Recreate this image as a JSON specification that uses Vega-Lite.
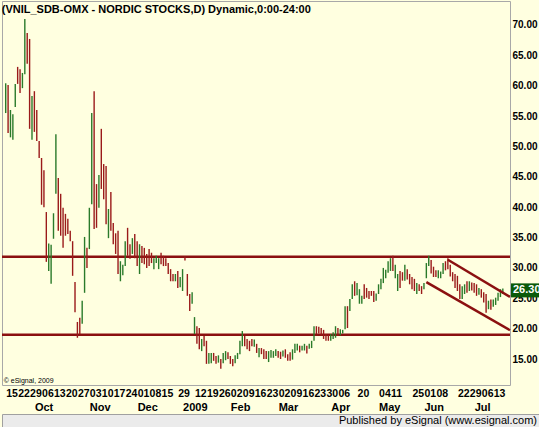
{
  "$schema": "https://vega.github.io/schema/vega-lite/v6.json",
  "background": "#FFFFE0",
  "padding": 0,
  "spacing": 0,
  "config": {"font": "Liberation Sans", "view": {"stroke": null}, "axis": {"labelOverlap": false, "labelSeparation": 0}},
  "datasets": {
    "ohlc": [
      {"d":"2008-09-15","o":56,"h":60.4,"l":55.5,"c":60},
      {"d":"2008-09-16","o":59.5,"h":60.1,"l":52.2,"c":53},
      {"d":"2008-09-17","o":53,"h":56,"l":51.5,"c":55},
      {"d":"2008-09-18","o":52,"h":55.3,"l":51.1,"c":54.5},
      {"d":"2008-09-19","o":57,"h":60.3,"l":56.5,"c":60},
      {"d":"2008-09-22","o":62.5,"h":63.1,"l":60.3,"c":61},
      {"d":"2008-09-23","o":62,"h":62.7,"l":58.8,"c":60},
      {"d":"2008-09-24","o":60,"h":62.1,"l":59.6,"c":62},
      {"d":"2008-09-25","o":62,"h":71,"l":61.9,"c":69},
      {"d":"2008-09-26","o":68,"h":68.7,"l":63.6,"c":64.5},
      {"d":"2008-09-29","o":66,"h":67.7,"l":52.9,"c":54},
      {"d":"2008-09-30","o":52,"h":58.3,"l":51.1,"c":57},
      {"d":"2008-10-01","o":58,"h":59.1,"l":52.4,"c":53},
      {"d":"2008-10-02","o":55,"h":56,"l":50.9,"c":51.5},
      {"d":"2008-10-03","o":50.5,"h":50.9,"l":48.1,"c":48.5},
      {"d":"2008-10-06","o":47.5,"h":48.1,"l":40.4,"c":41.5},
      {"d":"2008-10-07","o":45,"h":46.1,"l":40,"c":41},
      {"d":"2008-10-08","o":39,"h":39.2,"l":31,"c":33},
      {"d":"2008-10-09","o":31,"h":34,"l":29.5,"c":33},
      {"d":"2008-10-10","o":29,"h":33.8,"l":27.4,"c":32},
      {"d":"2008-10-13","o":35,"h":39,"l":34.8,"c":38.5},
      {"d":"2008-10-14","o":43,"h":52,"l":42.2,"c":50},
      {"d":"2008-10-15","o":44,"h":44.8,"l":36.1,"c":37},
      {"d":"2008-10-16","o":41,"h":42.2,"l":35.3,"c":36},
      {"d":"2008-10-17","o":39,"h":39.9,"l":33.3,"c":34},
      {"d":"2008-10-20","o":38,"h":38.9,"l":35.3,"c":36},
      {"d":"2008-10-21","o":37.5,"h":38.1,"l":35.6,"c":36},
      {"d":"2008-10-22","o":36,"h":36.1,"l":34.4,"c":34.8},
      {"d":"2008-10-23","o":34,"h":34.4,"l":28.7,"c":29.5},
      {"d":"2008-10-24","o":27.5,"h":27.7,"l":22.7,"c":23.5},
      {"d":"2008-10-27","o":21,"h":21.1,"l":18.5,"c":19.5},
      {"d":"2008-10-28","o":21.5,"h":21.8,"l":19.1,"c":19.8},
      {"d":"2008-10-29","o":21,"h":24.6,"l":20.8,"c":24},
      {"d":"2008-10-30","o":26,"h":35.1,"l":25.9,"c":34},
      {"d":"2008-10-31","o":33,"h":33.3,"l":30,"c":30.5},
      {"d":"2008-11-03","o":33.5,"h":39.9,"l":33.1,"c":39},
      {"d":"2008-11-04","o":41,"h":55.5,"l":40.5,"c":53},
      {"d":"2008-11-05","o":58,"h":59.1,"l":36.4,"c":38},
      {"d":"2008-11-06","o":43,"h":43.8,"l":36.6,"c":37.5},
      {"d":"2008-11-07","o":40,"h":45.3,"l":39.9,"c":44.5},
      {"d":"2008-11-10","o":51,"h":52.9,"l":43,"c":44},
      {"d":"2008-11-11","o":46.5,"h":47.1,"l":41.3,"c":42},
      {"d":"2008-11-12","o":46,"h":46.8,"l":37.2,"c":38},
      {"d":"2008-11-13","o":35.5,"h":39.7,"l":34.9,"c":39},
      {"d":"2008-11-14","o":42,"h":42.5,"l":36.1,"c":37},
      {"d":"2008-11-17","o":37,"h":37.4,"l":33.9,"c":34.5},
      {"d":"2008-11-18","o":35.5,"h":35.7,"l":32.3,"c":33},
      {"d":"2008-11-19","o":35.5,"h":36.1,"l":29,"c":29.5},
      {"d":"2008-11-20","o":28.5,"h":31.1,"l":27.8,"c":30.5},
      {"d":"2008-11-21","o":29,"h":30.5,"l":28.8,"c":30},
      {"d":"2008-11-24","o":30.5,"h":34.4,"l":30.3,"c":34},
      {"d":"2008-11-25","o":36,"h":36.6,"l":32,"c":33},
      {"d":"2008-11-26","o":33.5,"h":33.9,"l":31.5,"c":32},
      {"d":"2008-11-27","o":32.5,"h":34.9,"l":32.3,"c":34.5},
      {"d":"2008-11-28","o":35,"h":35.6,"l":31.6,"c":32},
      {"d":"2008-12-01","o":34,"h":34.4,"l":30.3,"c":31},
      {"d":"2008-12-02","o":29.5,"h":33.9,"l":29,"c":33},
      {"d":"2008-12-03","o":33,"h":33.6,"l":30.8,"c":31.5},
      {"d":"2008-12-04","o":33,"h":33.3,"l":30.6,"c":31},
      {"d":"2008-12-05","o":32,"h":32.3,"l":30,"c":30.5},
      {"d":"2008-12-08","o":32.5,"h":33.1,"l":30.3,"c":31},
      {"d":"2008-12-09","o":32,"h":32.5,"l":30.8,"c":31.2},
      {"d":"2008-12-10","o":30,"h":31.6,"l":29.8,"c":31.3},
      {"d":"2008-12-11","o":31,"h":32,"l":30.8,"c":31.8},
      {"d":"2008-12-12","o":30.2,"h":31.6,"l":29.8,"c":31.3},
      {"d":"2008-12-15","o":32.3,"h":32.5,"l":30.6,"c":31},
      {"d":"2008-12-16","o":31.8,"h":32,"l":30.3,"c":30.6},
      {"d":"2008-12-17","o":31.4,"h":31.6,"l":30.3,"c":30.5},
      {"d":"2008-12-18","o":30.6,"h":30.8,"l":29,"c":29.3},
      {"d":"2008-12-19","o":29.6,"h":29.8,"l":27.8,"c":28.2},
      {"d":"2008-12-22","o":28.8,"h":29,"l":27.8,"c":28},
      {"d":"2008-12-23","o":28,"h":29,"l":27.8,"c":28.8},
      {"d":"2008-12-29","o":29.2,"h":29.5,"l":26.7,"c":27},
      {"d":"2008-12-30","o":27,"h":28.5,"l":26.8,"c":28.2},
      {"d":"2009-01-02","o":26.8,"h":29.8,"l":26.2,"c":29.5},
      {"d":"2009-01-05","o":31.8,"h":31.9,"l":31.2,"c":31.3},
      {"d":"2009-01-07","o":28.7,"h":29,"l":25.4,"c":25.8},
      {"d":"2009-01-08","o":25.5,"h":25.7,"l":22.9,"c":23.3},
      {"d":"2009-01-09","o":24.3,"h":26,"l":24.1,"c":25.7},
      {"d":"2009-01-12","o":19.5,"h":21.9,"l":19.1,"c":21.5},
      {"d":"2009-01-13","o":20.2,"h":20.4,"l":17.5,"c":18},
      {"d":"2009-01-14","o":19.8,"h":20.1,"l":16.6,"c":17},
      {"d":"2009-01-15","o":16.6,"h":18.3,"l":16.3,"c":18},
      {"d":"2009-01-16","o":18.6,"h":18.8,"l":17.1,"c":17.3},
      {"d":"2009-01-19","o":17.8,"h":18,"l":14.2,"c":14.6},
      {"d":"2009-01-20","o":14.5,"h":16,"l":14.2,"c":15.7},
      {"d":"2009-01-21","o":14.6,"h":16,"l":14.3,"c":15.8},
      {"d":"2009-01-22","o":15.8,"h":16,"l":14.7,"c":15},
      {"d":"2009-01-23","o":15.3,"h":15.5,"l":14.2,"c":14.4},
      {"d":"2009-01-26","o":14.6,"h":15.6,"l":14.4,"c":15.4},
      {"d":"2009-01-27","o":14.8,"h":15,"l":13.4,"c":13.7},
      {"d":"2009-01-28","o":14.5,"h":16,"l":14.3,"c":15.8},
      {"d":"2009-01-29","o":15,"h":16.3,"l":14.8,"c":16.1},
      {"d":"2009-01-30","o":15.9,"h":16.1,"l":15,"c":15.2},
      {"d":"2009-02-02","o":15.3,"h":15.5,"l":14.2,"c":14.5},
      {"d":"2009-02-03","o":14.8,"h":15,"l":13.8,"c":14},
      {"d":"2009-02-04","o":14.4,"h":15.6,"l":14.3,"c":15.4},
      {"d":"2009-02-05","o":15.2,"h":16,"l":15,"c":15.9},
      {"d":"2009-02-06","o":16,"h":18,"l":15.8,"c":17.7},
      {"d":"2009-02-09","o":17.4,"h":19.6,"l":17.1,"c":19.2},
      {"d":"2009-02-10","o":18.6,"h":18.8,"l":17.1,"c":17.4},
      {"d":"2009-02-11","o":18,"h":18.3,"l":16.6,"c":16.9},
      {"d":"2009-02-12","o":17.8,"h":18,"l":16.3,"c":16.6},
      {"d":"2009-02-13","o":18,"h":18.3,"l":17.1,"c":17.3},
      {"d":"2009-02-16","o":17.2,"h":18.2,"l":17,"c":18},
      {"d":"2009-02-17","o":17.3,"h":17.5,"l":16,"c":16.2},
      {"d":"2009-02-18","o":15.5,"h":16.8,"l":15.3,"c":16.6},
      {"d":"2009-02-19","o":16.6,"h":16.8,"l":15.8,"c":16},
      {"d":"2009-02-20","o":16.4,"h":16.6,"l":15,"c":15.2},
      {"d":"2009-02-23","o":16.1,"h":16.3,"l":15,"c":15.3},
      {"d":"2009-02-24","o":14.8,"h":16.3,"l":14.5,"c":16},
      {"d":"2009-02-25","o":15.5,"h":16.5,"l":15.2,"c":16.3},
      {"d":"2009-02-26","o":15.4,"h":16.3,"l":15.2,"c":16.1},
      {"d":"2009-02-27","o":15.7,"h":16.6,"l":15.5,"c":16.5},
      {"d":"2009-03-02","o":16.2,"h":16.3,"l":15.2,"c":15.4},
      {"d":"2009-03-03","o":16,"h":16.2,"l":15,"c":15.2},
      {"d":"2009-03-04","o":15.5,"h":16.4,"l":15.4,"c":16.2},
      {"d":"2009-03-05","o":16.4,"h":16.6,"l":15.2,"c":15.4},
      {"d":"2009-03-06","o":15.6,"h":15.8,"l":14.7,"c":14.9},
      {"d":"2009-03-09","o":15.9,"h":16.1,"l":14.7,"c":14.9},
      {"d":"2009-03-10","o":15,"h":16.6,"l":14.9,"c":16.4},
      {"d":"2009-03-11","o":16.2,"h":17.5,"l":16,"c":17.3},
      {"d":"2009-03-12","o":16.6,"h":17.5,"l":16.4,"c":17.3},
      {"d":"2009-03-13","o":17.1,"h":17.2,"l":16.1,"c":16.3},
      {"d":"2009-03-16","o":16.5,"h":17.2,"l":16.4,"c":17},
      {"d":"2009-03-17","o":16.6,"h":17.5,"l":16.4,"c":17.3},
      {"d":"2009-03-18","o":17,"h":17.2,"l":15.9,"c":16.1},
      {"d":"2009-03-19","o":16.8,"h":17.5,"l":16.7,"c":17.3},
      {"d":"2009-03-20","o":17,"h":18,"l":16.8,"c":17.8},
      {"d":"2009-03-23","o":18.2,"h":20.4,"l":18,"c":20},
      {"d":"2009-03-24","o":20.2,"h":20.4,"l":19.1,"c":19.3},
      {"d":"2009-03-25","o":20.1,"h":20.3,"l":19.2,"c":19.4},
      {"d":"2009-03-26","o":19.9,"h":20.1,"l":18.9,"c":19.1},
      {"d":"2009-03-27","o":19.6,"h":19.8,"l":18.3,"c":18.5},
      {"d":"2009-03-30","o":19,"h":19.1,"l":18,"c":18.2},
      {"d":"2009-03-31","o":18.9,"h":19,"l":18,"c":18.2},
      {"d":"2009-04-01","o":18.2,"h":19.1,"l":18,"c":18.9},
      {"d":"2009-04-02","o":18.4,"h":19.4,"l":18.3,"c":19.2},
      {"d":"2009-04-03","o":18.7,"h":20.4,"l":18.5,"c":20.1},
      {"d":"2009-04-06","o":20,"h":20.1,"l":18.8,"c":19},
      {"d":"2009-04-07","o":19,"h":19.9,"l":18.9,"c":19.7},
      {"d":"2009-04-08","o":19.3,"h":19.8,"l":19.2,"c":19.7},
      {"d":"2009-04-09","o":20,"h":23.7,"l":19.9,"c":23.3},
      {"d":"2009-04-14","o":23.5,"h":23.7,"l":20.1,"c":20.5},
      {"d":"2009-04-15","o":23,"h":24.9,"l":22.9,"c":24.6},
      {"d":"2009-04-16","o":25,"h":27.3,"l":24.9,"c":27},
      {"d":"2009-04-17","o":27.5,"h":27.8,"l":25.4,"c":25.8},
      {"d":"2009-04-20","o":25.8,"h":27.5,"l":25.5,"c":27},
      {"d":"2009-04-21","o":24.3,"h":26.5,"l":24.1,"c":26.2},
      {"d":"2009-04-22","o":24.2,"h":25.4,"l":24.1,"c":25.2},
      {"d":"2009-04-23","o":27,"h":27.3,"l":24.9,"c":25.3},
      {"d":"2009-04-24","o":26.5,"h":26.7,"l":25.1,"c":25.4},
      {"d":"2009-04-27","o":26,"h":26.2,"l":24.9,"c":25.1},
      {"d":"2009-04-28","o":26,"h":26.2,"l":25.4,"c":25.6},
      {"d":"2009-04-29","o":25.9,"h":26.2,"l":24.4,"c":24.7},
      {"d":"2009-04-30","o":24.8,"h":25.8,"l":24.6,"c":25.6},
      {"d":"2009-05-04","o":25.9,"h":27.3,"l":25.7,"c":27},
      {"d":"2009-05-05","o":26.7,"h":28.2,"l":26.5,"c":28},
      {"d":"2009-05-06","o":27.7,"h":30,"l":27.5,"c":29.7},
      {"d":"2009-05-07","o":28.5,"h":29.7,"l":28.3,"c":29.5},
      {"d":"2009-05-08","o":29.4,"h":31.1,"l":29.2,"c":30.8},
      {"d":"2009-05-11","o":29.8,"h":31.6,"l":29.5,"c":31.3},
      {"d":"2009-05-12","o":31.8,"h":32,"l":29.5,"c":29.8},
      {"d":"2009-05-13","o":29,"h":30.5,"l":28.3,"c":30.2},
      {"d":"2009-05-14","o":26.4,"h":29,"l":26.2,"c":28.7},
      {"d":"2009-05-15","o":29.3,"h":29.5,"l":26.7,"c":27},
      {"d":"2009-05-18","o":29,"h":29.3,"l":27.9,"c":28.2},
      {"d":"2009-05-19","o":28.1,"h":30.5,"l":27.9,"c":30.2},
      {"d":"2009-05-20","o":29.6,"h":29.8,"l":28.1,"c":28.4},
      {"d":"2009-05-22","o":28.8,"h":29,"l":27.3,"c":27.6},
      {"d":"2009-05-25","o":28.3,"h":28.5,"l":26.5,"c":26.8},
      {"d":"2009-05-26","o":28,"h":28.2,"l":26.2,"c":26.5},
      {"d":"2009-05-27","o":25.9,"h":27.5,"l":25.7,"c":27.3},
      {"d":"2009-05-28","o":27.1,"h":27.3,"l":26.2,"c":26.4},
      {"d":"2009-05-29","o":26.8,"h":27,"l":25.7,"c":26},
      {"d":"2009-06-01","o":26.6,"h":27.5,"l":26.5,"c":27.3},
      {"d":"2009-06-02","o":28.5,"h":30.8,"l":28.3,"c":30.5},
      {"d":"2009-06-03","o":30.5,"h":32,"l":30.3,"c":31.7},
      {"d":"2009-06-04","o":31.1,"h":31.3,"l":29.1,"c":29.4},
      {"d":"2009-06-05","o":30,"h":30.2,"l":28.5,"c":28.8},
      {"d":"2009-06-08","o":29.4,"h":29.6,"l":28.5,"c":28.7},
      {"d":"2009-06-09","o":28.5,"h":29.6,"l":28.3,"c":29.3},
      {"d":"2009-06-10","o":28.5,"h":29.4,"l":28.3,"c":29.2},
      {"d":"2009-06-11","o":29.2,"h":30.8,"l":29,"c":30.6},
      {"d":"2009-06-12","o":30.9,"h":31.1,"l":29.6,"c":29.9},
      {"d":"2009-06-15","o":31.4,"h":31.6,"l":29.8,"c":30},
      {"d":"2009-06-16","o":30.3,"h":30.5,"l":28.6,"c":28.9},
      {"d":"2009-06-17","o":29.1,"h":29.3,"l":27.8,"c":28},
      {"d":"2009-06-18","o":28.8,"h":29,"l":26.7,"c":27},
      {"d":"2009-06-22","o":28.5,"h":28.7,"l":26.2,"c":26.5},
      {"d":"2009-06-23","o":27.1,"h":27.3,"l":24.9,"c":25.2},
      {"d":"2009-06-24","o":25.1,"h":27,"l":24.9,"c":26.7},
      {"d":"2009-06-25","o":25.9,"h":27.3,"l":25.7,"c":27.1},
      {"d":"2009-06-26","o":27.6,"h":27.8,"l":25.9,"c":26.2},
      {"d":"2009-06-29","o":26.4,"h":27.8,"l":26.2,"c":27.6},
      {"d":"2009-06-30","o":27.4,"h":27.6,"l":26.3,"c":26.5},
      {"d":"2009-07-01","o":27.3,"h":27.5,"l":25.9,"c":26.1},
      {"d":"2009-07-02","o":27,"h":27.3,"l":25.4,"c":25.7},
      {"d":"2009-07-03","o":25.8,"h":26.7,"l":25.6,"c":26.5},
      {"d":"2009-07-06","o":26.3,"h":26.5,"l":25.1,"c":25.3},
      {"d":"2009-07-07","o":25.8,"h":26,"l":24.3,"c":24.6},
      {"d":"2009-07-08","o":25.3,"h":25.7,"l":22.6,"c":23},
      {"d":"2009-07-09","o":23.4,"h":24.6,"l":23.2,"c":24.3},
      {"d":"2009-07-10","o":24.6,"h":24.8,"l":23.1,"c":23.4},
      {"d":"2009-07-13","o":23.8,"h":24.8,"l":23.6,"c":24.6},
      {"d":"2009-07-14","o":24.2,"h":25.1,"l":23.9,"c":24.9},
      {"d":"2009-07-15","o":24.8,"h":25.9,"l":24.6,"c":25.7},
      {"d":"2009-07-16","o":25.4,"h":26.5,"l":25.2,"c":26.2},
      {"d":"2009-07-17","o":25.9,"h":26.6,"l":25.7,"c":26.3}
    ],
    "levels": [{"level": 31.85}, {"level": 19.0}],
    "channel": [
      {"d": "2009-06-15", "v": 31.35, "g": "upper"},
      {"d": "2009-07-22", "v": 25.23, "g": "upper"},
      {"d": "2009-06-02", "v": 27.66, "g": "lower"},
      {"d": "2009-07-22", "v": 19.74, "g": "lower"}
    ]
  },
  "vconcat": [
    {
      "width": 508,
      "height": 384,
      "view": {"fill": "#FFFFE0", "stroke": "#A8A8A8"},
      "title": {"text": "(VNIL_SDB-OMX - NORDIC STOCKS,D) Dynamic,0:00-24:00", "anchor": "start", "offset": -14, "fontSize": 11, "fontWeight": "bold", "font": "Liberation Sans", "color": "#000000", "dx": 1},
      "resolve": {"axis": {"x": "independent", "y": "independent"}},
      "layer": [
        {
          "data": {"name": "levels"},
          "mark": {"type": "rule", "color": "#8B1010", "strokeWidth": 2.5},
          "encoding": {
            "y": {"field": "level", "type": "quantitative", "title": null, "axis": null}
          }
        },
        {
          "data": {"name": "ohlc"},
          "mark": {"type": "rule", "strokeWidth": 1.4},
          "encoding": {
            "x": {
              "field": "d", "type": "ordinal", "title": null,
              "scale": {"type": "point", "padding": 0.774, "align": 1, "domain": {"unionWith": ["2009-07-20", "2009-07-21", "2009-07-22"]}},
              "axis": {
                "orient": "bottom",
                "values": ["2008-09-15","2008-09-22","2008-09-29","2008-10-06","2008-10-13","2008-10-20","2008-10-27","2008-11-03","2008-11-10","2008-11-17","2008-11-24","2008-12-01","2008-12-08","2008-12-15","2008-12-29","2009-01-12","2009-01-19","2009-01-26","2009-02-02","2009-02-09","2009-02-16","2009-02-23","2009-03-02","2009-03-09","2009-03-16","2009-03-23","2009-03-30","2009-04-06","2009-04-20","2009-05-04","2009-05-11","2009-05-25","2009-06-01","2009-06-08","2009-06-22","2009-06-29","2009-07-06","2009-07-13"],
                "labelExpr": "substring(datum.value, 8, 10)",
                "labelAngle": 0, "labelAlign": "left", "labelBaseline": "top", "labelPadding": 3,
                "labelOverlap": false, "labelBound": false, "labelFlush": false,
                "labelFont": "Liberation Sans", "labelFontSize": 10.5, "labelFontWeight": "bold", "labelColor": "#000000",
                "ticks": false, "domain": false, "grid": false
              }
            },
            "y": {
              "field": "l", "type": "quantitative", "title": null,
              "scale": {"domain": [10.72, 73.95], "nice": false, "zero": false},
              "axis": {
                "orient": "right", "values": [15, 20, 25, 30, 35, 40, 45, 50, 55, 60, 65, 70],
                "labelExpr": "format(datum.value, '.2f')",
                "labelOverlap": false, "labelSeparation": 0, "labelBound": false, "labelFlush": false,
                "labelFont": "Liberation Sans", "labelFontSize": 10, "labelFontWeight": "bold", "labelColor": "#000000",
                "labelPadding": 2, "ticks": false, "domain": false, "grid": false
              }
            },
            "y2": {"field": "h"},
            "color": {"condition": {"test": "datum.c >= datum.o", "value": "#2A7A2A"}, "value": "#9A1A1A"}
          }
        },
        {
          "data": {"name": "channel"},
          "mark": {"type": "line", "color": "#8B1010", "strokeWidth": 2.5},
          "encoding": {
            "x": {
              "field": "d", "type": "ordinal", "title": null,
              "axis": {
                "orient": "bottom",
                "values": ["2008-10-01","2008-11-03","2008-12-01","2009-01-02","2009-02-02","2009-03-02","2009-04-01","2009-05-04","2009-06-01","2009-07-01"],
                "labelExpr": "datum.value == '2009-01-02' ? '2009' : ['','Jan','Feb','Mar','Apr','May','Jun','Jul','Aug','Sep','Oct','Nov','Dec'][toNumber(substring(datum.value, 5, 7))]",
                "offset": 13, "labelAngle": 0, "labelAlign": "left", "labelBaseline": "top", "labelPadding": 3,
                "labelOverlap": false, "labelBound": false, "labelFlush": false,
                "labelFont": "Liberation Sans", "labelFontSize": 11, "labelFontWeight": "bold", "labelColor": "#000000",
                "ticks": false, "domain": false, "grid": false
              }
            },
            "y": {"field": "v", "type": "quantitative", "title": null, "axis": null},
            "detail": {"field": "g"}
          }
        },
        {
          "data": {"values": [{"note": "© eSignal, 2009"}]},
          "mark": {"type": "text", "align": "left", "baseline": "middle", "fontSize": 7, "font": "Liberation Sans", "color": "#000000", "dx": -2},
          "encoding": {
            "x": {"datum": "2008-09-15", "type": "ordinal", "axis": null},
            "y": {"datum": 11.4, "type": "quantitative", "axis": null},
            "text": {"field": "note"}
          }
        },
        {
          "data": {"name": "ohlc"},
          "transform": [{"filter": "datum.d == '2009-07-17'"}],
          "mark": {"type": "rect", "fill": "#0A5A0A", "xOffset": 1, "x2Offset": 30, "yOffset": -7, "y2Offset": 7},
          "encoding": {
            "x": {"datum": "2009-07-22", "type": "ordinal", "axis": null},
            "x2": {"datum": "2009-07-22"},
            "y": {"field": "c", "type": "quantitative", "axis": null},
            "y2": {"field": "c"}
          }
        },
        {
          "data": {"name": "ohlc"},
          "transform": [{"filter": "datum.d == '2009-07-17'"}],
          "mark": {"type": "text", "align": "left", "baseline": "middle", "dx": 3, "fontSize": 11, "fontWeight": "bold", "font": "Liberation Sans", "color": "#FFFFFF"},
          "encoding": {
            "x": {"datum": "2009-07-22", "type": "ordinal", "axis": null},
            "y": {"field": "c", "type": "quantitative", "axis": null},
            "text": {"field": "c", "type": "quantitative", "format": ".2f"}
          }
        }
      ]
    },
    {
      "width": 539,
      "height": 15,
      "view": {"fill": "#EBEBEB", "stroke": "#A0A0A0"},
      "data": {"values": [{"t": "Published by eSignal (www.esignal.com)"}]},
      "mark": {"type": "text", "align": "right", "baseline": "middle", "dx": -4, "fontSize": 11, "font": "Liberation Sans", "color": "#000000"},
      "encoding": {
        "x": {"value": "width"},
        "y": {"value": 7},
        "text": {"field": "t"}
      }
    }
  ]
}
